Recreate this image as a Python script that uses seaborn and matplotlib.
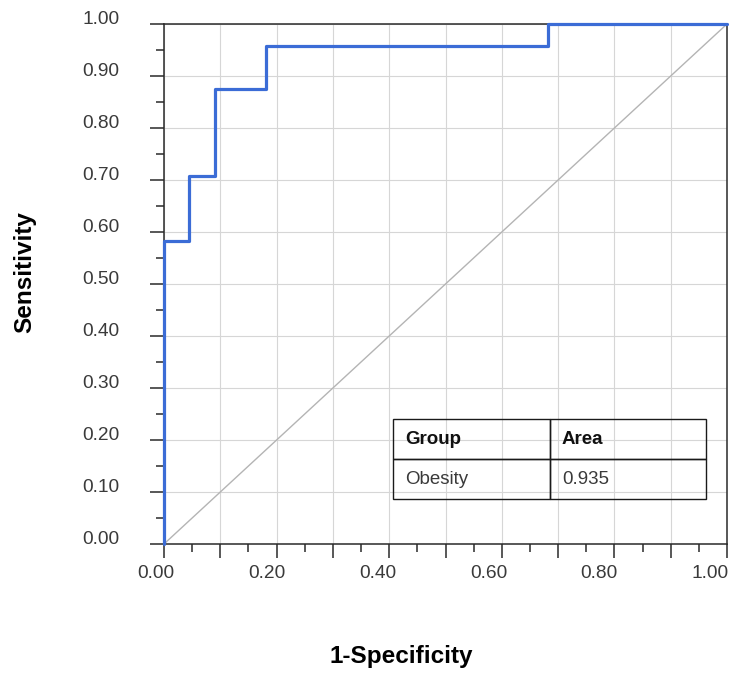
import matplotlib
matplotlib.use("Agg")
import matplotlib.pyplot as plt
import seaborn as sns
import pandas as pd
from matplotlib.transforms import ScaledTranslation
from matplotlib.ticker import FixedLocator, FixedFormatter

# ---- data ----
fpr = [0.0, 0.0, 0.045, 0.045, 0.091, 0.091, 0.182, 0.182, 0.682, 0.682, 1.0]
tpr = [0.0, 0.583, 0.583, 0.708, 0.708, 0.875, 0.875, 0.958, 0.958, 1.0, 1.0]
ref_x = [0.0, 1.0]
ref_y = [0.0, 1.0]

x_major = [0.0, 0.1, 0.2, 0.3, 0.4, 0.5, 0.6, 0.7, 0.8, 0.9, 1.0]
x_labels = ["0.00", "", "0.20", "", "0.40", "", "0.60", "", "0.80", "", "1.00"]
x_minor = [0.05, 0.15, 0.25, 0.35, 0.45, 0.55, 0.65, 0.75, 0.85, 0.95]
y_major = [0.0, 0.1, 0.2, 0.3, 0.4, 0.5, 0.6, 0.7, 0.8, 0.9, 1.0]
y_labels = ["0.00", "0.10", "0.20", "0.30", "0.40", "0.50",
            "0.60", "0.70", "0.80", "0.90", "1.00"]
y_minor = [0.05, 0.15, 0.25, 0.35, 0.45, 0.55, 0.65, 0.75, 0.85, 0.95]

table_header = ["Group", "Area"]
table_rows = [["Obesity", "0.935"]]

x_title = "1-Specificity"
y_title = "Sensitivity"

# ---- style ----
sns.set_style("white")
plt.rcParams["font.family"] = ["Liberation Sans", "DejaVu Sans"]

W, H, DPI = 733, 674, 100
fig = plt.figure(figsize=(W / DPI, H / DPI), dpi=DPI)
ax = fig.add_axes([164 / W, 1 - 544 / H, (727 - 164) / W, (544 - 24) / H])

roc = pd.DataFrame({"fpr": fpr, "tpr": tpr})
diag = pd.DataFrame({"x": ref_x, "y": ref_y})

sns.lineplot(data=diag, x="x", y="y", ax=ax, color="#b4b4b4", lw=1.0,
             sort=False, estimator=None, zorder=2)
sns.lineplot(data=roc, x="fpr", y="tpr", ax=ax, color="#3b6cd6", lw=2.3,
             sort=False, estimator=None, zorder=5, clip_on=False)

ax.set_xlim(0, 1)
ax.set_ylim(0, 1)
ax.set_xlabel("")
ax.set_ylabel("")

ax.xaxis.set_major_locator(FixedLocator(x_major))
ax.xaxis.set_major_formatter(FixedFormatter(x_labels))
ax.xaxis.set_minor_locator(FixedLocator(x_minor))
ax.yaxis.set_major_locator(FixedLocator(y_major))
ax.yaxis.set_major_formatter(FixedFormatter(y_labels))
ax.yaxis.set_minor_locator(FixedLocator(y_minor))

ax.grid(True, which="major", color="#d6d6d6", lw=0.8, zorder=0)
ax.set_axisbelow(True)

for s in ax.spines.values():
    s.set_color("#2a2a2a")
    s.set_linewidth(1.1)
    s.set_visible(True)

tick_col = "#2a2a2a"
ax.tick_params(which="major", direction="out", length=10, width=1.1,
               color=tick_col, labelcolor="#3a3a3a", labelsize=13.8)
ax.tick_params(which="minor", direction="out", length=5.8, width=1.1,
               color=tick_col)
ax.tick_params(axis="x", which="major", pad=5, bottom=True)
ax.tick_params(axis="y", which="major", pad=22, left=True)
ax.tick_params(axis="x", which="minor", bottom=True)
ax.tick_params(axis="y", which="minor", left=True)

fig.canvas.draw()
for v, lab in zip(x_major, ax.get_xticklabels()):
    off = ScaledTranslation(-(8 + 9 * v) / DPI, 0, fig.dpi_scale_trans)
    lab.set_transform(lab.get_transform() + off)
for lab in ax.get_yticklabels():
    lab.set_va("baseline")

# ---- table ----
tbl = ax.table(cellText=table_rows, colLabels=table_header,
               colWidths=[0.279, 0.277], cellLoc="left", colLoc="left",
               bbox=[0.407, 0.086, 0.556, 0.154], zorder=6)
tbl.auto_set_font_size(False)
tbl.set_fontsize(13.5)
for (r, c), cell in tbl.get_celld().items():
    cell.set_edgecolor("#1a1a1a")
    cell.set_linewidth(1.0)
    cell.set_facecolor("none")
    cell.PAD = 0.075
    if r == 0:
        cell.get_text().set_fontweight("bold")
        cell.get_text().set_color("#111111")
    else:
        cell.get_text().set_color("#3a3a3a")

# ---- axis titles ----
fig.text(401 / W, 1 - 663 / H, x_title, ha="center", va="baseline",
         fontsize=17.5, fontweight="bold", color="black")
fig.text(25 / W, 1 - 272 / H, y_title, ha="center", va="center",
         rotation=90, fontsize=17.5, fontweight="bold", color="black")

fig.savefig("out.png", dpi=DPI)
